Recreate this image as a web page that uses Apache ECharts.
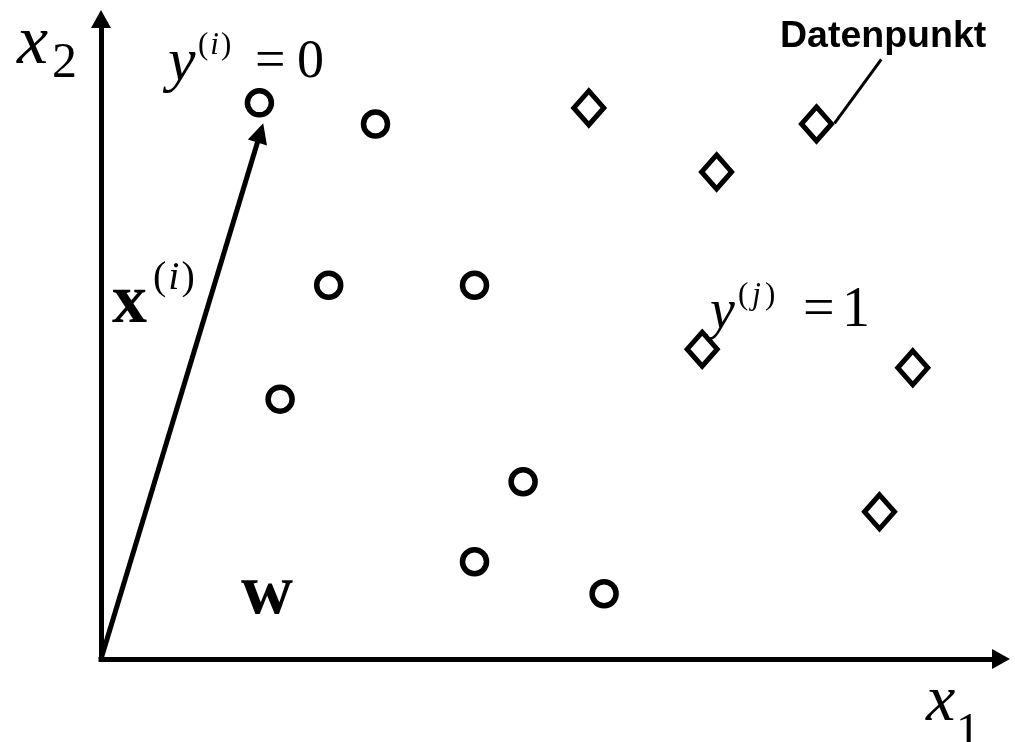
<!DOCTYPE html>
<html>
<head>
<meta charset="utf-8">
<script src="https://cdn.jsdelivr.net/npm/echarts@6/dist/echarts.min.js"></script>
<style>
  html, body { margin: 0; padding: 0; background: #fff; }
  #chart { width: 1015px; height: 742px; }
</style>
</head>
<body>
<div id="chart"></div>
<script>
// Klasse y = 0 (Kreise) und Klasse y = 1 (Rauten), Achsen laufen von 0 bis 10
const class0 = [
  [1.76, 8.69], [3.05, 8.36], [2.53, 5.84], [4.15, 5.84],
  [1.99, 4.06], [4.69, 2.77], [4.15, 1.52], [5.59, 1.02],
]
const class1 = [
  [5.42, 8.61], [7.95, 8.36], [6.84, 7.61],
  [6.68, 4.84], [9.02, 4.55], [8.65, 2.30],
]
// Vektor x(i) vom Ursprung zum Datenpunkt
const vectorX = [[0, 0], [1.77, 8.22]]
// Zeiger der Beschriftung "Datenpunkt"
const pointer = [[8.67, 9.37], [8.15, 8.37]]

const serif = '"Liberation Serif", "DejaVu Serif", serif'
const sans = '"Liberation Sans", Arial, sans-serif'

function txt(left, mid, text, size, opts) {
  opts = opts || {}
  return {
    type: 'text',
    left: left,
    top: mid - size / 2,
    style: {
      text: text,
      fontFamily: opts.family || serif,
      fontSize: size,
      fontStyle: opts.italic ? 'italic' : 'normal',
      fontWeight: opts.bold ? 'bold' : 'normal',
      fill: '#000',
      rich: opts.rich,
    },
  }
}

function sup(size, pad) {
  return {
    p: { fontFamily: serif, fontSize: size, fontStyle: 'normal' },
    v: { fontFamily: serif, fontSize: size, fontStyle: 'italic', padding: [0, pad, 0, pad] },
  }
}

const axisLine = {
  show: true,
  symbol: ['none', 'triangle'],
  symbolSize: [20, 18],
  lineStyle: { color: '#000', width: 5, cap: 'square' },
}

const chart = echarts.init(document.getElementById('chart'))
chart.setOption({
  animation: false,
  backgroundColor: '#fff',
  grid: { left: 101, right: 14, top: 19, bottom: 83 },
  xAxis: {
    type: 'value', min: 0, max: 10,
    axisLine: axisLine, axisTick: { show: false }, axisLabel: { show: false }, splitLine: { show: false },
  },
  yAxis: {
    type: 'value', min: 0, max: 10,
    axisLine: axisLine, axisTick: { show: false }, axisLabel: { show: false }, splitLine: { show: false },
  },
  series: [
    {
      type: 'lines',
      coordinateSystem: 'cartesian2d',
      symbol: ['none', 'triangle'],
      symbolSize: 20,
      lineStyle: { color: '#000', width: 5, opacity: 1 },
      data: [{ coords: vectorX }],
      z: 1,
    },
    {
      type: 'lines',
      coordinateSystem: 'cartesian2d',
      symbol: 'none',
      lineStyle: { color: '#000', width: 3, opacity: 1 },
      data: [{ coords: pointer }],
      z: 1,
    },
    {
      type: 'scatter',
      symbol: 'circle',
      symbolSize: 24,
      itemStyle: { color: '#fff', borderColor: '#000', borderWidth: 5.5, opacity: 1 },
      data: class0,
      z: 3,
    },
    {
      type: 'scatter',
      symbol: 'diamond',
      symbolSize: [30, 34],
      itemStyle: { color: '#fff', borderColor: '#000', borderWidth: 5, opacity: 1 },
      data: class1,
      z: 3,
    },
  ],
  graphic: [
    txt(17, 45, 'x', 70, { italic: true }),
    txt(52, 64, '2', 50),
    txt(926, 703, 'x', 66, { italic: true }),
    txt(956, 733, '1', 48),
    txt(168, 64, 'y', 62, { italic: true }),
    txt(198, 46, '{p|(}{v|i}{p|)}', 31, { rich: sup(31, 2) }),
    txt(255, 63, '=', 54),
    txt(297, 63, '0', 54),
    txt(112, 304, 'x', 70, { bold: true }),
    txt(153, 278, '{p|(}{v|i}{p|)}', 40, { rich: sup(40, 2) }),
    txt(241, 594, 'w', 72, { bold: true }),
    txt(710, 313, 'y', 56, { italic: true }),
    txt(738, 296, '{p|(}{v|j}{p|)}', 31, { rich: sup(31, 4) }),
    txt(803, 311, '=', 56),
    txt(842, 311, '1', 56),
    txt(780, 36, 'Datenpunkt', 37.5, { bold: true, family: sans }),
  ],
})
window.addEventListener('resize', function () { chart.resize() })
</script>
</body>
</html>
